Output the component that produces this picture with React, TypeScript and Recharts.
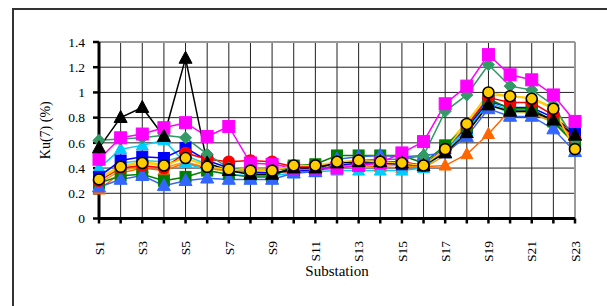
import React from 'react';
import { LineChart, Line, XAxis, YAxis, CartesianGrid, ReferenceLine, Label } from 'recharts';

const substations = ['S1', 'S2', 'S3', 'S4', 'S5', 'S6', 'S7', 'S8', 'S9', 'S10', 'S11', 'S12',
  'S13', 'S14', 'S15', 'S16', 'S17', 'S18', 'S19', 'S20', 'S21', 'S22', 'S23'];

const yTicks = [0, 0.2, 0.4, 0.6, 0.8, 1, 1.2, 1.4];

// Ku(7) per substation, one array per measurement series
const lineYellow = [0.32, 0.42, 0.45, 0.43, 0.48, 0.42, 0.40, 0.39, 0.39, 0.41, 0.41, 0.44, 0.45, 0.44, 0.43, 0.41, 0.57, 0.77, 0.98, 0.97, 0.96, 0.88, 0.62];
const lineTeal = [0.35, 0.44, 0.46, 0.45, 0.50, 0.43, 0.38, 0.36, 0.36, 0.39, 0.39, 0.42, 0.43, 0.43, 0.42, 0.40, 0.53, 0.70, 0.90, 0.84, 0.84, 0.76, 0.60];
const lineAmber = [0.28, 0.38, 0.41, 0.40, 0.45, 0.40, 0.37, 0.36, 0.36, 0.39, 0.39, 0.42, 0.43, 0.43, 0.42, 0.40, 0.50, 0.68, 0.90, 0.85, 0.84, 0.76, 0.60];
const orangeTri = [0.23, 0.36, 0.40, 0.38, 0.44, 0.40, 0.38, 0.36, 0.36, 0.37, 0.38, 0.40, 0.42, 0.41, 0.40, 0.41, 0.42, 0.51, 0.67, 0.86, 0.85, 0.78, 0.62];
const cyanTri = [0.40, 0.55, 0.58, 0.62, 0.44, 0.38, 0.35, 0.34, 0.34, 0.36, 0.37, 0.38, 0.38, 0.38, 0.38, 0.40, 0.55, 0.70, 0.92, 0.86, 0.86, 0.78, 0.60];
const blueSq = [0.33, 0.46, 0.49, 0.48, 0.56, 0.46, 0.40, 0.37, 0.36, 0.38, 0.38, 0.42, 0.44, 0.44, 0.43, 0.42, 0.56, 0.72, 0.93, 0.88, 0.88, 0.80, 0.68];
const greenSq = [0.28, 0.34, 0.35, 0.30, 0.33, 0.38, 0.35, 0.33, 0.33, 0.42, 0.43, 0.50, 0.50, 0.50, 0.50, 0.44, 0.58, 0.73, 0.95, 0.87, 0.87, 0.77, 0.59];
const royalTri = [0.25, 0.31, 0.34, 0.26, 0.30, 0.32, 0.31, 0.31, 0.31, 0.36, 0.37, 0.47, 0.49, 0.50, 0.49, 0.50, 0.52, 0.65, 0.87, 0.81, 0.81, 0.71, 0.53];
const redCircle = [0.30, 0.40, 0.42, 0.40, 0.52, 0.47, 0.45, 0.46, 0.45, 0.41, 0.41, 0.44, 0.46, 0.45, 0.45, 0.42, 0.55, 0.74, 0.96, 0.92, 0.92, 0.82, 0.63];
const greenDiamond = [0.62, 0.63, 0.64, 0.66, 0.64, 0.51, 0.40, 0.38, 0.38, 0.40, 0.40, 0.44, 0.46, 0.47, 0.47, 0.50, 0.85, 0.98, 1.22, 1.05, 1.02, 0.90, 0.62];
const magentaSq = [0.47, 0.64, 0.67, 0.72, 0.76, 0.65, 0.73, 0.44, 0.43, 0.40, 0.40, 0.40, 0.42, 0.44, 0.52, 0.61, 0.91, 1.05, 1.30, 1.14, 1.10, 0.98, 0.77];
const blackTri = [0.56, 0.80, 0.88, 0.65, 1.27, 0.44, 0.38, 0.35, 0.35, 0.40, 0.40, 0.44, 0.45, 0.45, 0.44, 0.42, 0.52, 0.68, 0.90, 0.85, 0.85, 0.78, 0.66];
const goldCircle = [0.31, 0.41, 0.44, 0.42, 0.48, 0.41, 0.39, 0.38, 0.38, 0.42, 0.42, 0.45, 0.46, 0.45, 0.44, 0.42, 0.55, 0.75, 1.00, 0.97, 0.95, 0.87, 0.55];

type Shape = 'none' | 'square' | 'triangle' | 'diamond' | 'circle';

const series: { key: string; values: number[]; color: string; shape: Shape; fill?: string; stroke?: string; r?: number }[] = [
  { key: 'yellow', values: lineYellow, color: '#FFCC00', shape: 'none' },
  { key: 'teal', values: lineTeal, color: '#33CCCC', shape: 'none' },
  { key: 'amber', values: lineAmber, color: '#FF9900', shape: 'none' },
  { key: 'orangeTri', values: orangeTri, color: '#FF6600', shape: 'triangle', r: 6 },
  { key: 'cyanTri', values: cyanTri, color: '#00CCFF', shape: 'triangle', r: 6 },
  { key: 'blueSq', values: blueSq, color: '#0000FF', shape: 'square', r: 5.5 },
  { key: 'greenSq', values: greenSq, color: '#008000', shape: 'square', r: 5.5 },
  { key: 'royalTri', values: royalTri, color: '#3366FF', shape: 'triangle', r: 6.5 },
  { key: 'redCircle', values: redCircle, color: '#FF0000', shape: 'circle', r: 5.5 },
  { key: 'greenDiamond', values: greenDiamond, color: '#339966', shape: 'diamond', r: 6 },
  { key: 'magentaSq', values: magentaSq, color: '#FF00FF', shape: 'square', r: 6 },
  { key: 'blackTri', values: blackTri, color: '#000000', shape: 'triangle', r: 6.5 },
  { key: 'goldCircle', values: goldCircle, color: '#000000', shape: 'circle', fill: '#FFCC00', stroke: '#000000', r: 5.5 },
];

const data = substations.map((name, i) => {
  const row: Record<string, string | number> = { name };
  series.forEach((s) => { row[s.key] = s.values[i]; });
  return row;
});

const FONT = '"Liberation Serif", "Times New Roman", serif';

function marker(shape: Shape, fill: string, stroke: string, r: number) {
  return (p: any) => {
    const { cx, cy, index } = p;
    const k = `m${index}`;
    if (cx == null || cy == null) return <g key={k} />;
    if (shape === 'square')
      return <rect key={k} x={cx - r} y={cy - r} width={2 * r} height={2 * r} fill={fill} stroke={stroke} strokeWidth={1} />;
    if (shape === 'triangle')
      return <polygon key={k} points={`${cx},${cy - r * 1.1} ${cx + r},${cy + r * 0.75} ${cx - r},${cy + r * 0.75}`} fill={fill} stroke={stroke} strokeWidth={1} />;
    if (shape === 'diamond')
      return <polygon key={k} points={`${cx},${cy - r} ${cx + r},${cy} ${cx},${cy + r} ${cx - r},${cy}`} fill={fill} stroke={stroke} strokeWidth={1} />;
    return <circle key={k} cx={cx} cy={cy} r={r} fill={fill} stroke={stroke} strokeWidth={1.6} />;
  };
}

const SubTick = (props: any) => {
  const { x, y, payload, index } = props;
  if (index % 2 !== 0) return <g />;
  return (
    <text x={x} y={y} transform={`rotate(-90, ${x}, ${y})`} textAnchor="end" dy="0.35em"
      fontSize={13.5} fontFamily={FONT} fill="#000">
      {payload.value}
    </text>
  );
};

export default function App() {
  return (
    <div style={{ position: 'fixed', left: 0, top: 0, width: 607, height: 306, overflow: 'hidden', background: '#fff' }}>
      <div style={{ position: 'absolute', left: 12, top: 8, width: 700, height: 400, border: '2px solid #333', boxSizing: 'border-box' }} />
      <div style={{ position: 'absolute', left: 0, top: 0 }}>
        <LineChart width={607} height={306} data={data} margin={{ top: 42, right: 32, left: 49, bottom: 27.5 }}>
          <CartesianGrid stroke="#222" strokeWidth={1} />
          <ReferenceLine y={1.4} stroke="#999" strokeWidth={2} />
          <ReferenceLine x="S23" stroke="#999" strokeWidth={2} />
          <XAxis dataKey="name" interval={0} height={60} tickSize={5} tickMargin={17.5}
            axisLine={{ stroke: '#000', strokeWidth: 3 }} tickLine={{ stroke: '#000', strokeWidth: 2.5 }}
            tick={<SubTick />}>
            <Label value="Substation" position="insideBottom" offset={2.5}
              style={{ fontFamily: FONT, fontSize: 15, fill: '#000' }} />
          </XAxis>
          <YAxis domain={[0, 1.4]} ticks={yTicks} width={50} tickSize={6} tickMargin={8}
            tickFormatter={(v: number) => String(v)}
            axisLine={{ stroke: '#000', strokeWidth: 3 }} tickLine={{ stroke: '#000', strokeWidth: 2.5 }}
            tick={{ fontFamily: FONT, fontSize: 13.5, fill: '#000' }}>
            <Label value="Ku(7) (%)" angle={-90} position="insideLeft" offset={-4}
              style={{ fontFamily: FONT, fontSize: 14, fill: '#000', textAnchor: 'middle' }} />
          </YAxis>
          {series.map((s) => (
            <Line key={s.key} type="linear" dataKey={s.key} stroke={s.shape === 'circle' && s.fill ? '#FFCC00' : s.color}
              strokeWidth={1.5} isAnimationActive={false}
              dot={s.shape === 'none' ? false : marker(s.shape, s.fill ?? s.color, s.stroke ?? s.color, s.r ?? 5)}
              activeDot={false} />
          ))}
        </LineChart>
      </div>
    </div>
  );
}
